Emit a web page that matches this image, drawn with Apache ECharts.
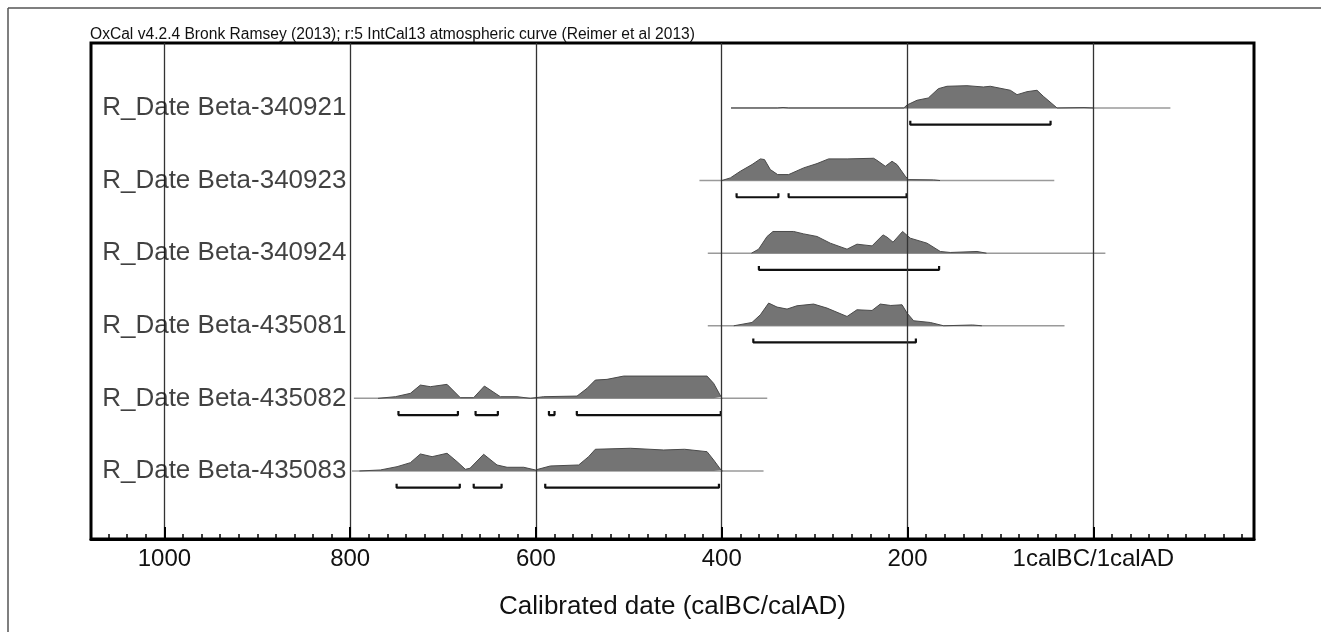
<!DOCTYPE html>
<html>
<head>
<meta charset="utf-8">
<title>OxCal multiplot</title>
<script src="https://cdn.jsdelivr.net/npm/echarts@6/dist/echarts.min.js"></script>
<style>
html,body{margin:0;padding:0;background:#fff;}
#main{width:1321px;height:632px;}
</style>
</head>
<body>
<div id="main"></div>
<script>
// 样本名称（从上到下）
var names = ['R_Date Beta-340921','R_Date Beta-340923','R_Date Beta-340924','R_Date Beta-435081','R_Date Beta-435082','R_Date Beta-435083'];

// 基线范围 [起, 止] calBC，公元为负
var spans = [[390,-83],[424,42],[415,-13],[415,31],[796,351],[798,355]];

// 概率分布 [年份, 相对概率]
var dens1 = [[390,0],[340,0],[334,0.5],[328,0],[204,0],[200.5,3],[189.8,7.7],[177.6,10],[166.8,19.3],[157.5,21.7],[136,22.3],[118.4,21],[110.9,21.7],[89.3,17.7],[82.1,13.3],[71.4,16.3],[60.6,17.7],[53.8,11.7],[39,0],[10,0.4],[0,0]];
var dens2 = [[400,0],[390.7,2.7],[380,9.3],[367.4,16],[358.4,21.7],[354,21],[347.7,11],[339.8,6],[328,6],[311.8,12.7],[297.4,17],[284.9,21.7],[265,21.7],[236.5,22.3],[233,20.3],[223.9,14.3],[216.7,19.3],[211.3,16],[202.4,4.3],[198.8,1],[172,0.7],[165,0]];
var dens3 = [[368,0],[360.3,4],[351.2,16.7],[344.8,21.7],[322.6,21.7],[311.8,19.3],[297.4,16.7],[283.1,10],[265.1,4],[254.4,9],[238.2,7.3],[226.4,18.3],[222,16],[215.6,11],[205.3,21.7],[197,15],[179,10],[164.7,1.7],[154,0.7],[125.2,1.7],[115,0]];
var dens4 = [[387,0],[367.4,3.3],[358.4,11],[349.5,22.7],[340.5,18.7],[329.7,16.7],[319,20],[301.1,21.7],[286.7,17.7],[265.1,9.3],[254.4,16],[238.2,15.3],[229.3,21.7],[218,20.3],[205.9,21],[200.5,12.7],[193.4,5],[175.5,3.3],[161.1,0],[130,0.8],[120,0]];
var dens5 = [[770,0],[751.3,1.7],[735.2,5],[724.4,13.3],[713.7,11.7],[695.7,14],[681.4,0.7],[667.1,0.7],[655.5,12.3],[638.3,1.7],[620.4,1.7],[606,0],[591.7,1.7],[555.8,2.3],[545,10],[536.1,18.3],[523.5,19],[505.6,22.3],[415.8,22.3],[408.7,15],[400.8,1.7],[399.7,0]];
var dens6 = [[790,0],[767.5,1],[749.5,4.3],[735.2,8.3],[724.4,17],[711.8,14.3],[695.7,17.7],[684.9,9.3],[676,1.7],[671,2.7],[656.3,16.7],[641.9,6],[631.1,3.7],[613.2,3.7],[600.6,1],[584.5,5],[554,6],[543.3,14.3],[536.1,21.7],[498.4,22.7],[462.5,21],[440,21.7],[415.8,19.3],[408.7,11],[400.8,1],[399,0]];
var densList = [dens1,dens2,dens3,dens4,dens5,dens6];

// 95.4% 区间
var ranges = [
    [[197,46]],
    [[384,339],[328,201]],
    [[360,166]],
    [[366,191]],
    [[748,684],[665,641],[586,580],[556,401]],
    [[750,682],[667,637],[590,403]]
];

// 刻度
var majorTicks = [0,200,400,600,800,1000];
var minorTicks = [];
for (var t = -160; t <= 1060; t += 20) { minorTicks.push(t); }

var xMin = -173, xMax = 1079;
var pScale = 1 / 72.6;   // 概率 -> 行高
var bracketDrop = 0.23, hook = 0.055;

var series = [];
for (var i = 0; i < names.length; i++) {
    var base = 6 - i;
    // 基线
    series.push({
        type: 'line', silent: true, symbol: 'none', z: 2,
        data: [[spans[i][0], base], [spans[i][1], base]],
        lineStyle: {color: '#9a9a9a', width: 1.5}
    });
    // 分布
    var d = [];
    for (var j = 0; j < densList[i].length; j++) {
        d.push([densList[i][j][0], base + densList[i][j][1] * pScale]);
    }
    series.push({
        type: 'line', silent: true, symbol: 'none', z: 3,
        data: d,
        lineStyle: {color: '#4a4a4a', width: 1},
        areaStyle: {color: '#747474', opacity: 1, origin: base}
    });
    // 区间括号
    var b = [];
    var by = base - bracketDrop;
    for (var r = 0; r < ranges[i].length; r++) {
        var a0 = ranges[i][r][0], a1 = ranges[i][r][1];
        b.push([a0, by + hook], [a0, by], [a1, by], [a1, by + hook], [null, null]);
    }
    series.push({
        type: 'line', silent: true, symbol: 'none', z: 4, connectNulls: false,
        data: b,
        lineStyle: {color: '#111', width: 2.2}
    });
}
// 样本名
var labelData = [];
for (var i = 0; i < names.length; i++) {
    labelData.push({name: names[i], value: [804, 6 - i]});
}
series.push({
    type: 'scatter', symbolSize: 0, silent: true, z: 6,
    data: labelData,
    label: {
        show: true, position: 'left', distance: 0,
        formatter: '{b}', color: '#111',
        fontFamily: 'Liberation Sans, Arial, sans-serif', fontSize: 26
    }
});

var myChart = echarts.init(document.getElementById('main'));
var option = {
    animation: false,
    backgroundColor: '#fff',
    grid: {
        left: 91, right: 67, top: 43, bottom: 93,
        show: true, borderColor: '#000', borderWidth: 3
    },
    graphic: [
        {type: 'line', shape: {x1: 8, y1: 8, x2: 1321, y2: 8}, style: {stroke: '#555', lineWidth: 1.5}},
        {type: 'line', shape: {x1: 8, y1: 8, x2: 8, y2: 632}, style: {stroke: '#555', lineWidth: 1.5}},
        {
            type: 'text', left: 90, top: 27,
            style: {
                text: 'OxCal v4.2.4 Bronk Ramsey (2013); r:5 IntCal13 atmospheric curve (Reimer et al 2013)',
                fill: '#111', font: '15.6px "Liberation Sans", Arial, sans-serif'
            }
        }
    ],
    xAxis: [{
        type: 'value', min: xMin, max: xMax, inverse: true, z: 5,
        name: 'Calibrated date (calBC/calAD)',
        nameLocation: 'middle', nameGap: 55,
        nameTextStyle: {color: '#111', fontSize: 26, fontFamily: 'Liberation Sans, Arial, sans-serif'},
        axisLine: {show: true, lineStyle: {color: '#000', width: 3}},
        axisTick: {show: true, inside: true, length: 12, customValues: majorTicks, lineStyle: {color: '#000', width: 2}},
        axisLabel: {
            show: true, margin: 8, customValues: majorTicks,
            color: '#111', fontSize: 24, fontFamily: 'Liberation Sans, Arial, sans-serif',
            formatter: function (v) { return v === 0 ? '1calBC/1calAD' : String(v); }
        },
        splitLine: {show: true, lineStyle: {color: '#333', width: 1.3}}
    }, {
        type: 'value', min: xMin, max: xMax, inverse: true, position: 'bottom', z: 5,
        axisLine: {show: false},
        axisTick: {show: true, inside: true, length: 5, customValues: minorTicks, lineStyle: {color: '#000', width: 1.5}},
        axisLabel: {show: false},
        splitLine: {show: false}
    }],
    yAxis: {
        type: 'value', min: 0.063, max: 6.895, show: false,
        splitLine: {show: false}
    },
    series: series
};
myChart.setOption(option);
</script>
</body>
</html>
